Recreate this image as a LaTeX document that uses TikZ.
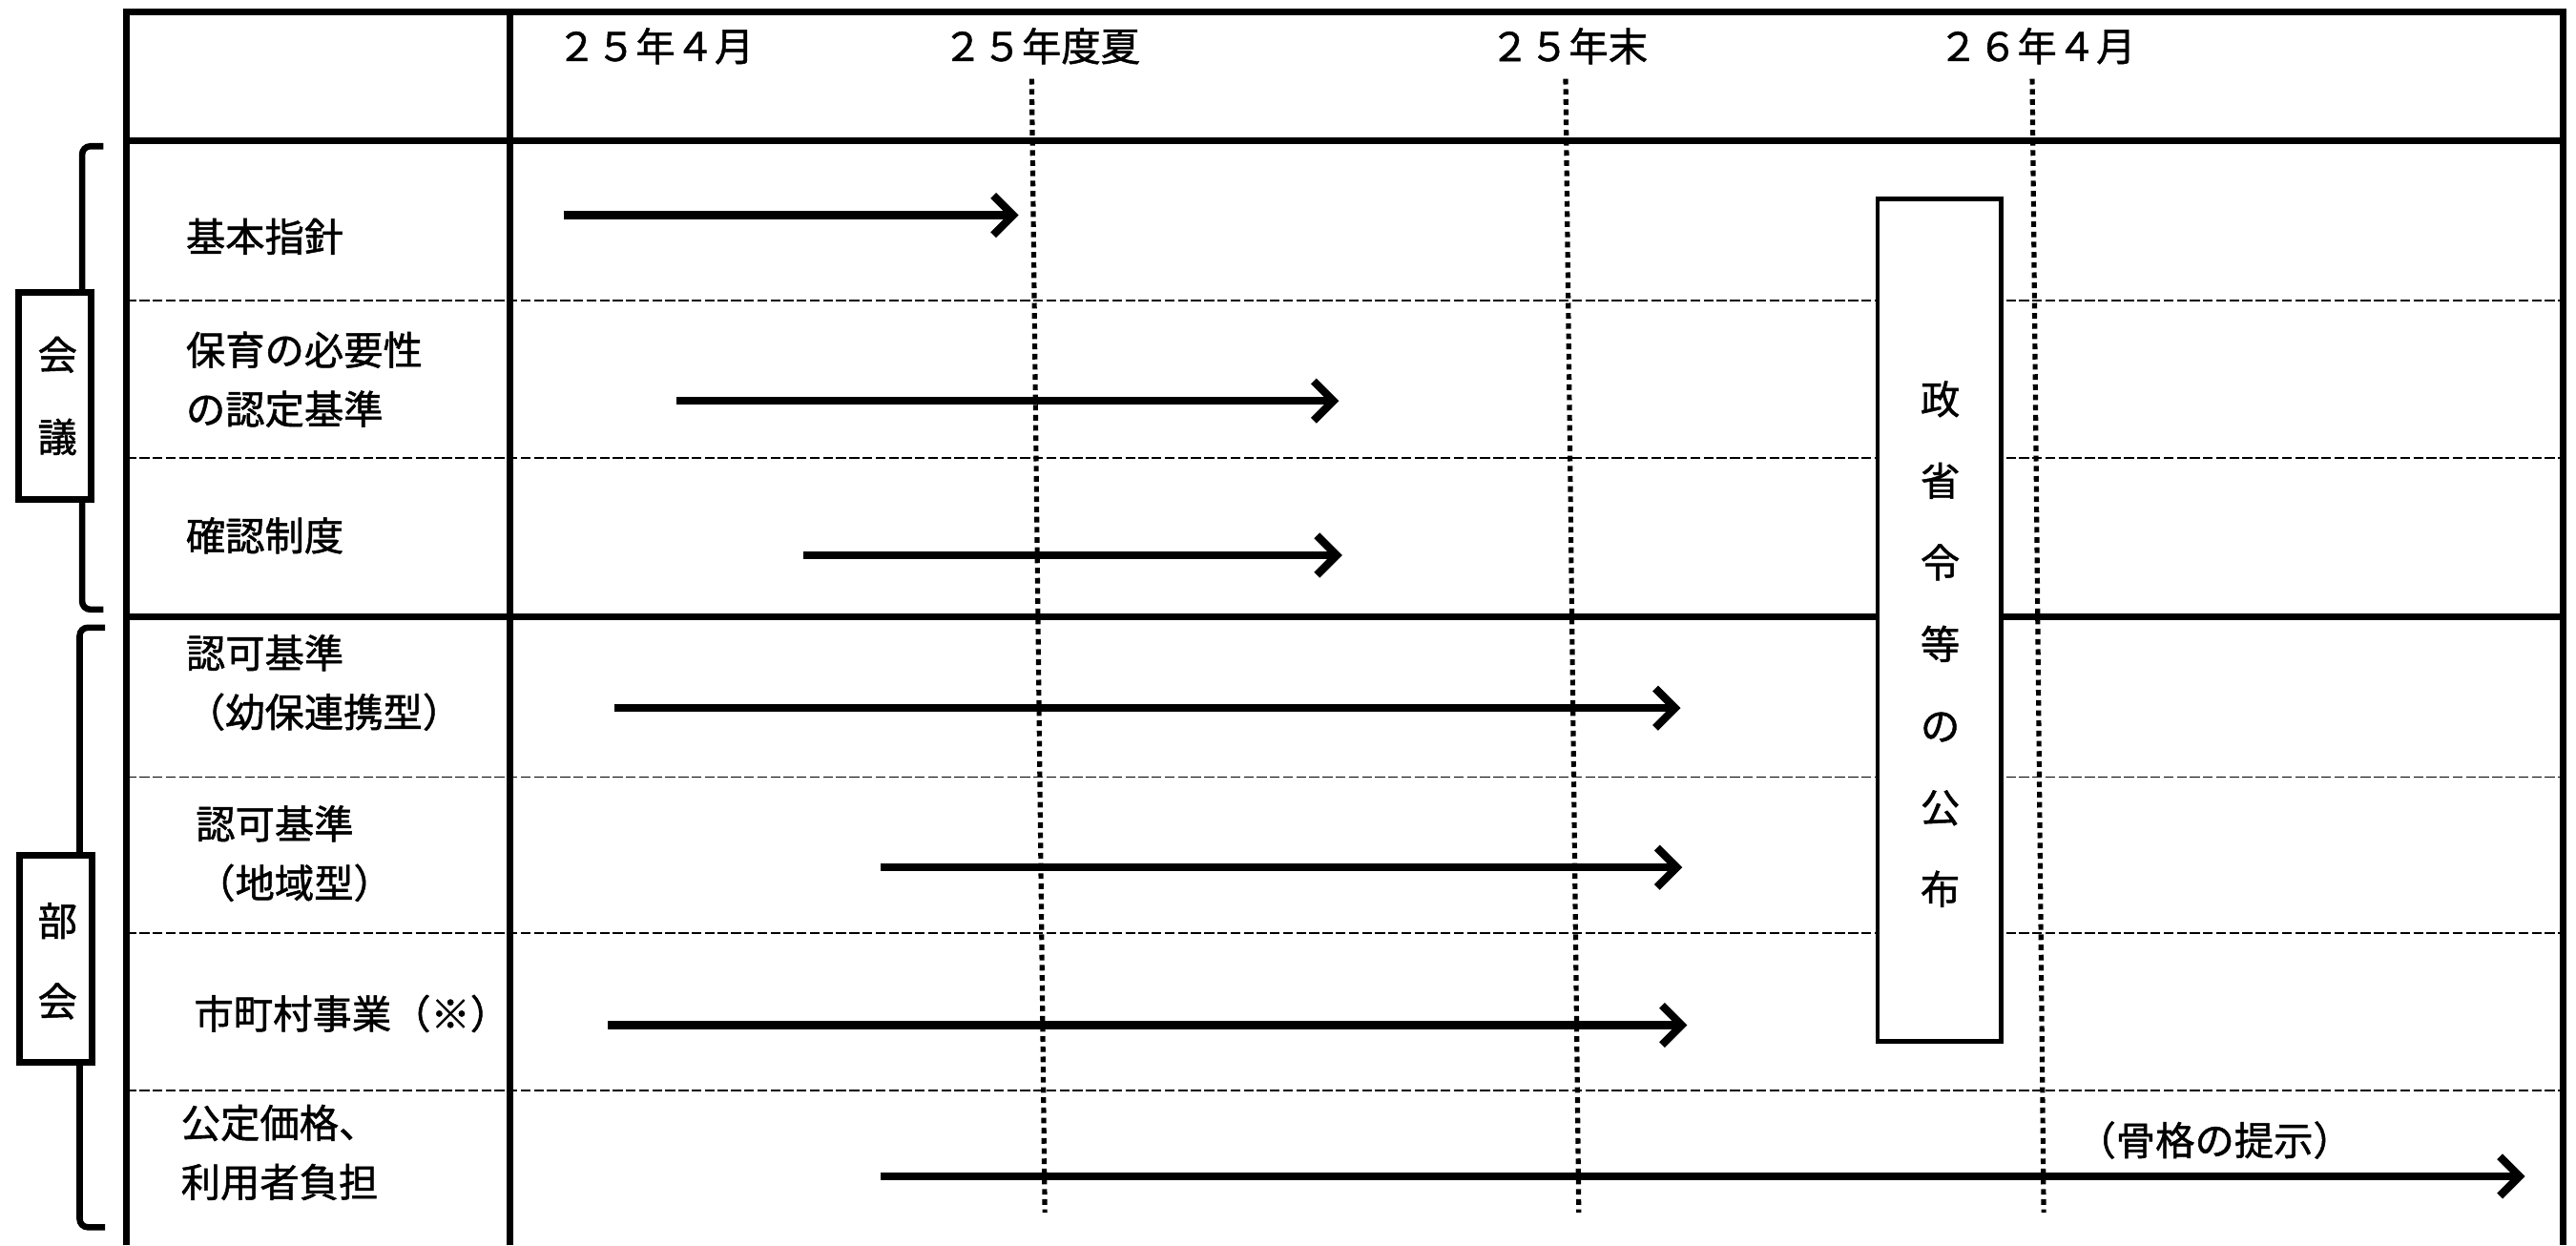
\documentclass[tikz,border=0pt]{standalone}
\usepackage{fontspec}
\setmainfont{Noto Sans CJK JP}[FakeBold=1.2]
\usetikzlibrary{arrows.meta}
\begin{document}
\begin{tikzpicture}[x=1pt,y=-1pt,
  jp/.style={font=\fontsize{24}{36}\selectfont, inner sep=0pt},
  frame/.style={line width=4pt},
  rowsep/.style={line width=1.1pt, dash pattern=on 6pt off 2pt},
  milestone/.style={line width=3pt, dash pattern=on 3.4pt off 2.8pt},
  task/.style={line width=4.8pt, -{Straight Barb[length=12pt,width=24pt]}},
  brack/.style={line width=3.8pt, rounded corners=5pt},
  grpbox/.style={draw, line width=4pt, fill=white, minimum width=44pt, minimum height=126pt, inner sep=0pt},
  ]
\useasboundingbox (0,0) rectangle (1568,758);
\fill[white] (0,0) rectangle (1568,758);

% row separators
\foreach \yy in {183,279,473,568,664} \draw[rowsep] (77,\yy) -- (1560,\yy);

% milestone dotted lines
\coordinate (m1a) at (628,48); \coordinate (m1b) at (636,738);
\coordinate (m2a) at (953,48); \coordinate (m2b) at (961,738);
\coordinate (m3a) at (1237,48); \coordinate (m3b) at (1244,738);
\draw[milestone] (m1a) -- (m1b);
\draw[milestone] (m2a) -- (m2b);
\draw[milestone] (m3a) -- (m3b);

% frame
\draw[frame] (77,758) -- (77,7) -- (1560,7) -- (1560,758);
\draw[frame] (310.5,7) -- (310.5,758);
\draw[frame] (77,85.5) -- (1560,85.5);
\draw[frame] (77,375.5) -- (1560,375.5);

% header labels
\node[jp] (h1) at (399,28) {２５年４月};
\node[jp] (h2) at (634,28) {２５年度夏};
\node[jp] (h3) at (955,28) {２５年末};
\node[jp] (h4) at (1240,28) {２６年４月};

% row labels
\node[jp, anchor=west] (l1) at (113,144) {基本指針};
\node[jp, anchor=west, align=left] (l2) at (113,231) {保育の必要性\\の認定基準};
\node[jp, anchor=west] (l3) at (113,326) {確認制度};
\node[jp, anchor=west, align=left] (l4) at (113,415.5) {認可基準\\（幼保連携型）};
\node[jp, anchor=west, align=left] (l5) at (119,519.5) {認可基準\\（地域型）};
\node[jp, anchor=west] (l6) at (118,617) {市町村事業（※）};
\node[jp, anchor=west, align=left] (l7) at (110,701.5) {公定価格、\\利用者負担};

% task arrows
\coordinate (a1s) at (343,131);  \coordinate (a1e) at (620,131);
\coordinate (a2s) at (412,244);  \coordinate (a2e) at (815,244);
\coordinate (a3s) at (489,338);  \coordinate (a3e) at (817,338);
\coordinate (a4s) at (374,431);  \coordinate (a4e) at (1023,431);
\coordinate (a5s) at (536,528);  \coordinate (a5e) at (1024,528);
\coordinate (a6s) at (370,624);  \coordinate (a6e) at (1027,624);
\coordinate (a7s) at (536,716);  \coordinate (a7e) at (1537,716);
\draw[task] (a1s) -- (a1e);
\draw[task] (a2s) -- (a2e);
\draw[task] (a3s) -- (a3e);
\draw[task] (a4s) -- (a4e);
\draw[task] (a5s) -- (a5e);
\draw[task] (a6s) -- (a6e);
\draw[task] (a7s) -- (a7e);

\node[jp] (note) at (1348,694) {（骨格の提示）};

% publication box
\node[draw, line width=2.6pt, fill=white, minimum width=75pt, minimum height=513pt, inner sep=0pt] (pub) at (1180.5,377.5) {};
\node[inner sep=0pt, align=center, font=\fontsize{24}{49.7}\selectfont] (pubtxt) at (1181,392) {政\\省\\令\\等\\の\\公\\布};

% brackets
\draw[brack] (63,89) -- (50,89) -- (50,371) -- (63,371);
\draw[brack] (64,382) -- (48.5,382) -- (48.5,747) -- (64,747);
\node[grpbox] (g1) at (33.5,241) {};
\node[inner sep=0pt, align=center, font=\fontsize{24}{50}\selectfont] (g1t) at (35,241) {会\\議};
\node[grpbox] (g2) at (34,583.5) {};
\node[inner sep=0pt, align=center, font=\fontsize{24}{49}\selectfont] (g2t) at (35,585) {部\\会};
\end{tikzpicture}
\end{document}
